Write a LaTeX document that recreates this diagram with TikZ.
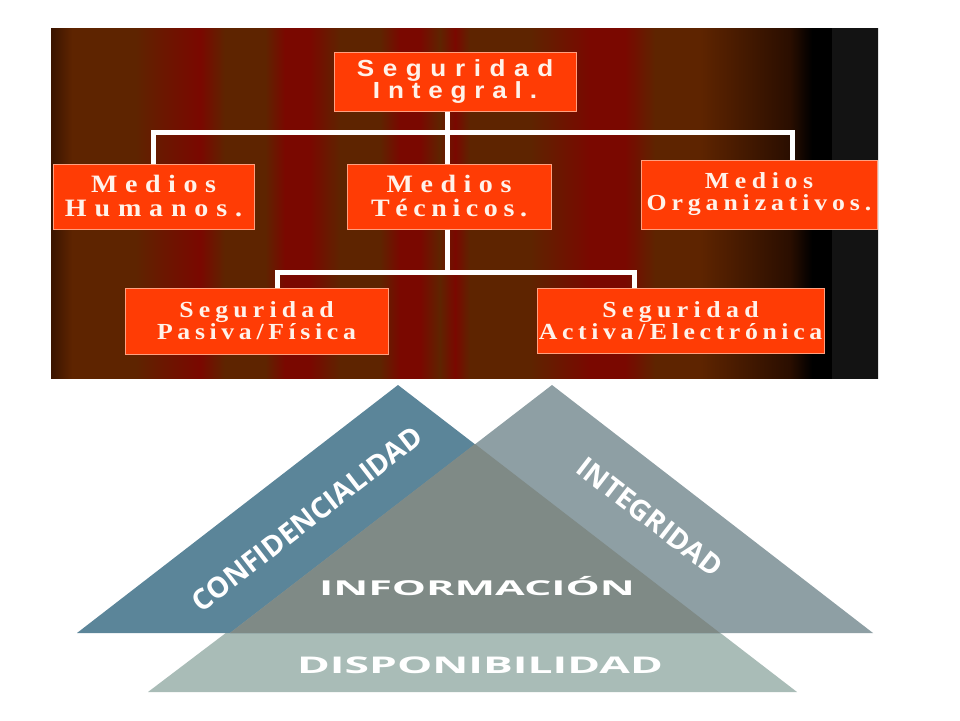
\documentclass[tikz,border=0pt]{standalone}
\usepackage{fontspec}
\usepackage{graphicx}
\setmainfont{Liberation Serif}
\newfontfamily\headfont{Liberation Sans}
\newfontfamily\trifont{Open Sans}
% stretched and tracked line of box text: scale, tracking, text
\newcommand{\wide}[3]{\scalebox{#1}[1]{\addfontfeature{LetterSpace=#2}#3}}

\definecolor{boxred}{HTML}{FF3C05}
\definecolor{boxedge}{HTML}{FFA080}
\definecolor{boxtext}{HTML}{FFF2EA}
\definecolor{stripebrown}{HTML}{5E2400}
\definecolor{stripemid}{HTML}{6C1600}
\definecolor{stripered}{HTML}{7A0800}
\definecolor{stripedark}{HTML}{3A1400}
\definecolor{stripedeep}{HTML}{2A0E00}
\definecolor{panelgray}{HTML}{131313}
\definecolor{triblue}{HTML}{5B8599}
\definecolor{trigray}{HTML}{8E9FA4}
\definecolor{trilight}{HTML}{A9BCB7}
\definecolor{tricore}{HTML}{7F8A86}

\tikzset{
  medio/.style={draw=boxedge, line width=1pt, fill=boxred, text=boxtext,
    align=center, inner sep=0pt, font=\bfseries\fontsize{23}{22}\selectfont},
  bigmedio/.style={medio, font=\bfseries\fontsize{25}{24}\selectfont},
  link/.style={white, line width=5pt},
  trilabel/.style={text=white, inner sep=0pt,
    font=\trifont\bfseries\fontsize{28.5}{28}\selectfont}
}

\begin{document}
\begin{tikzpicture}[x=1pt, y=-1pt]
        \useasboundingbox (0,0) rectangle (960,720);
        \fill[white] (0,0) rectangle (960,720);

        % Striped background of the chart
        \fill[stripebrown] (51,28) rectangle (878,378);
        \foreach \xa/\xb/\ca/\cb in {51/72/stripedark/stripebrown, 72/135/stripebrown/stripebrown,
            135/165/stripebrown/stripemid, 165/200/stripemid/stripered, 200/225/stripered/stripebrown,
            225/265/stripebrown/stripebrown, 265/285/stripebrown/stripered, 285/310/stripered/stripered,
            310/340/stripered/stripebrown, 340/380/stripebrown/stripebrown, 380/400/stripebrown/stripered,
            400/420/stripered/stripered, 420/440/stripered/stripebrown, 440/455/stripebrown/stripered,
            455/470/stripered/stripebrown, 470/530/stripebrown/stripebrown, 530/590/stripebrown/stripered,
            590/625/stripered/stripered, 625/655/stripered/stripebrown, 655/700/stripebrown/stripebrown,
            700/790/stripebrown/stripedeep, 790/812/stripedeep/black, 812/832/black/black,
            832/878/panelgray/panelgray}
            \shade[left color=\ca, right color=\cb] (\xa,28) rectangle (\xb,378);

        % Boxes of the chart
        \node[medio, minimum width=242pt, minimum height=59pt,
              font=\headfont\bfseries\fontsize{23.3}{21}\selectfont] (integral) at (455,81.5)
              {\wide{1.12}{33}{Seguridad}\\\wide{1.12}{30}{Integral.}};
        \node[bigmedio, minimum width=201pt, minimum height=65pt] (humanos) at (153.5,196.5)
              {\wide{1.12}{27}{Medios}\\\wide{1.12}{28}{Humanos.}};
        \node[bigmedio, minimum width=204pt, minimum height=65pt] (tecnicos) at (449,196.5)
              {\wide{1.12}{27}{Medios}\\\wide{1.12}{20}{Técnicos.}};
        \node[medio, minimum width=236pt, minimum height=69pt] (organizativos) at (759,194.5)
              {\wide{1.12}{22}{Medios}\\\wide{1.12}{19}{Organizativos.}};
        \node[medio, minimum width=263pt, minimum height=66pt] (pasiva) at (256.5,321)
              {\wide{1.12}{20}{Seguridad}\\\wide{1.12}{18}{Pasiva/Física}};
        \node[medio, minimum width=287pt, minimum height=65pt] (activa) at (680.5,320.5)
              {\wide{1.12}{21}{Seguridad}\\\wide{1.12}{18}{Activa/Electrónica}};

        % Connectors
        \coordinate (busA) at (447,132);
        \coordinate (busB) at (447,272);
        \draw[link] (integral.south -| busA) -- (tecnicos.north -| busA);
        \draw[link] (humanos.north) |- (busA) -| ([xshift=33pt]organizativos.north);
        \draw[link] (tecnicos.south -| busB) -- (busB);
        \draw[link] ([xshift=20.5pt]pasiva.north) |- (busB) -| ([xshift=-46.5pt]activa.north);

        % Triangles
        \fill[trilight] (475,444) -- (148,692) -- (797,692) -- cycle;
        \fill[triblue] (398,385) -- (77,633) -- (720,633) -- cycle;
        \fill[trigray] (552,385) -- (230,633) -- (873,633) -- cycle;
        \fill[tricore] (475,444) -- (230,633) -- (720,633) -- cycle;

        \node[trilabel, rotate=37.7] (confidencialidad) at (307,519) {CONFIDENCIALIDAD};
        \node[trilabel, rotate=-37.7] (integridad) at (650,517) {INTEGRIDAD};
        \node[trilabel, anchor=base, font=\trifont\bfseries\fontsize{20.5}{20}\selectfont]
              (informacion) at (477,595) {\scalebox{2.1}[1]{INFORMACIÓN}};
        \node[trilabel, anchor=base, font=\trifont\bfseries\fontsize{23}{23}\selectfont]
              (disponibilidad) at (480,673) {\scalebox{1.93}[1]{DISPONIBILIDAD}};
    \end{tikzpicture}
\end{document}
